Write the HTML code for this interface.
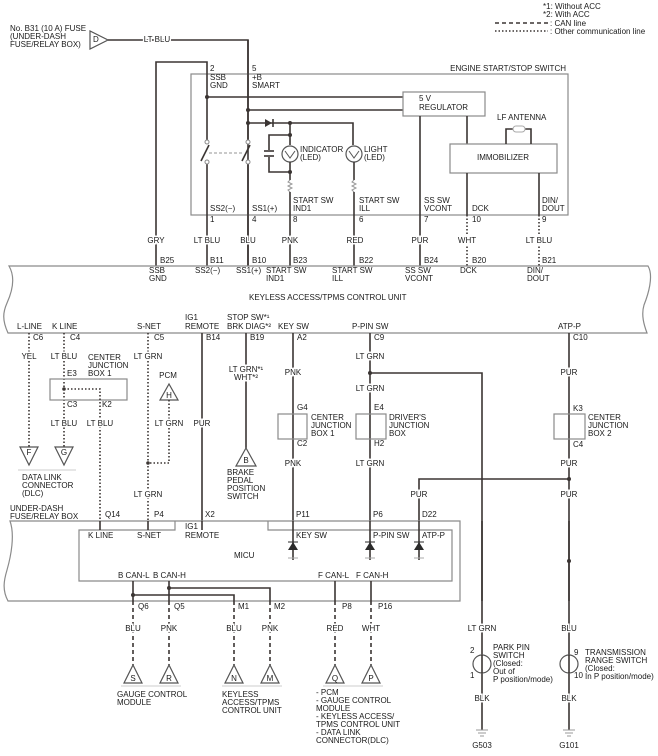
<!DOCTYPE html>
<html><head><meta charset="utf-8"><style>
html,body{margin:0;padding:0;background:#fff}
svg{display:block}
text{font-family:"Liberation Sans",sans-serif;font-size:8px;fill:#1a1a1a}
.l{stroke:white;stroke-width:3;paint-order:stroke}
.w{stroke:#3b3533;stroke-width:1.6;fill:none}
.b{stroke:#8a8a8a;stroke-width:1.2;fill:none}
.dot{stroke:#3b3533;stroke-width:1.6;fill:none;stroke-dasharray:1.5 2}
.dsh{stroke:#3b3533;stroke-width:1.6;fill:none;stroke-dasharray:4 3}
.tri{stroke:#555;stroke-width:1.2;fill:#fff}
.c{text-anchor:middle}
</style></head><body>
<svg width="658" height="756" viewBox="0 0 658 756" xmlns="http://www.w3.org/2000/svg">
<!-- legend -->
<text x="543" y="9">*1: Without ACC</text>
<text x="543" y="17">*2: With ACC</text>
<line x1="495" y1="23" x2="548" y2="23" class="dsh" stroke-width="1.2"/>
<text x="550" y="26">: CAN line</text>
<line x1="495" y1="31" x2="548" y2="31" class="dot" stroke-width="1.2"/>
<text x="550" y="34">: Other communication line</text>

<!-- fuse -->
<text x="10" y="31">No. B31 (10 A) FUSE</text>
<text x="10" y="39">(UNDER-DASH</text>
<text x="10" y="47">FUSE/RELAY BOX)</text>
<polygon points="90,31 90,49 108,40" class="tri"/>
<text x="93" y="42">D</text>
<polyline points="108,40 248,40 248,266" class="w"/>
<text x="157" y="42" class="c l">LT BLU</text>

<!-- engine start/stop switch -->
<rect x="191" y="74" width="377" height="141" class="b"/>
<text x="566" y="71" text-anchor="end">ENGINE START/STOP SWITCH</text>
<polyline points="156,266 156,62 207,62 207,142" class="w"/>
<line x1="207" y1="162" x2="207" y2="266" class="w"/>
<line x1="248" y1="142" x2="248" y2="40" class="w"/>
<line x1="248" y1="162" x2="248" y2="266" class="w"/>
<line x1="201" y1="161" x2="209" y2="145" class="w" stroke-width="1.2"/>
<line x1="242" y1="161" x2="250" y2="145" class="w" stroke-width="1.2"/>
<circle cx="207" cy="142" r="2" fill="#fff" stroke="#888"/><circle cx="207" cy="162" r="2" fill="#fff" stroke="#888"/>
<circle cx="248" cy="142" r="2" fill="#fff" stroke="#888"/><circle cx="248" cy="162" r="2" fill="#fff" stroke="#888"/>
<line x1="209" y1="153" x2="244" y2="153" stroke="#aaa" stroke-width="1.2" stroke-dasharray="3 2"/>
<text x="210" y="71">2</text><text x="210" y="80">SSB</text><text x="210" y="88">GND</text>
<text x="252" y="71">5</text><text x="252" y="80">+B</text><text x="252" y="88">SMART</text>
<line x1="207" y1="97" x2="403" y2="97" class="w"/>
<line x1="248" y1="110" x2="403" y2="110" class="w"/>
<circle cx="207" cy="97" r="2" fill="#3b3533"/><circle cx="248" cy="110" r="2" fill="#3b3533"/><circle cx="248" cy="123" r="2" fill="#3b3533"/>
<rect x="403" y="92" width="82" height="24" class="b"/>
<text x="419" y="101">5 V</text><text x="419" y="110">REGULATOR</text>
<polyline points="248,123 353,123 353,145" class="w"/>
<polygon points="265,119 265,127 272,123" fill="#3b3533"/><line x1="273" y1="119" x2="273" y2="127" class="w" stroke-width="1.2"/>
<circle cx="290" cy="123" r="2" fill="#3b3533"/>
<line x1="290" y1="123" x2="290" y2="145" class="w"/>
<polyline points="290,135 269,135 269,150" class="w"/>
<polyline points="269,157 269,172 290,172" class="w"/>
<line x1="264" y1="151" x2="274" y2="151" class="w" stroke-width="1.2"/><line x1="264" y1="156" x2="274" y2="156" class="w" stroke-width="1.2"/>
<circle cx="290" cy="135" r="2" fill="#3b3533"/><circle cx="290" cy="172" r="2" fill="#3b3533"/>
<circle cx="290" cy="154" r="8" fill="#fff" stroke="#555" stroke-width="1.2"/><path d="M285,151 L290,158 L295,151" fill="none" stroke="#555"/>
<circle cx="354" cy="154" r="8" fill="#fff" stroke="#555" stroke-width="1.2"/><path d="M349,151 L354,158 L359,151" fill="none" stroke="#555"/>
<text x="300" y="152">INDICATOR</text><text x="300" y="160">(LED)</text>
<text x="364" y="152">LIGHT</text><text x="364" y="160">(LED)</text>
<line x1="290" y1="162" x2="290" y2="180" class="w"/>
<line x1="354" y1="162" x2="354" y2="180" class="w"/>
<path d="M290,180 l-2,2 l4,2 l-4,2 l4,2 l-4,2 l2,2" fill="none" stroke="#999"/>
<path d="M354,180 l-2,2 l4,2 l-4,2 l4,2 l-4,2 l2,2" fill="none" stroke="#999"/>
<line x1="290" y1="192" x2="290" y2="266" class="w"/>
<line x1="354" y1="192" x2="354" y2="266" class="w"/>
<line x1="420" y1="116" x2="420" y2="266" class="w"/>
<line x1="467" y1="116" x2="467" y2="144" class="w"/>
<rect x="450" y="144" width="107" height="29" class="b"/>
<text x="503" y="160" class="c">IMMOBILIZER</text>
<text x="497" y="120">LF ANTENNA</text>
<polyline points="506,144 506,129 514,129" class="w"/><polyline points="531,144 531,129 524,129" class="w"/>
<rect x="513" y="126" width="12" height="6" rx="3" fill="#fff" stroke="#aaa"/>
<line x1="467" y1="173" x2="467" y2="215" class="w"/>
<line x1="539" y1="173" x2="539" y2="215" class="w"/>
<line x1="467" y1="215" x2="467" y2="266" class="dot"/>
<line x1="539" y1="215" x2="539" y2="266" class="dot"/>
<text x="210" y="211">SS2(−)</text><text x="252" y="211">SS1(+)</text>
<text x="293" y="203">START SW</text><text x="293" y="211">IND1</text>
<text x="359" y="203">START SW</text><text x="359" y="211">ILL</text>
<text x="424" y="203">SS SW</text><text x="424" y="211">VCONT</text>
<text x="472" y="211">DCK</text>
<text x="542" y="203">DIN/</text><text x="542" y="211">DOUT</text>
<text x="210" y="222">1</text><text x="252" y="222">4</text><text x="293" y="222">8</text><text x="359" y="222">6</text><text x="424" y="222">7</text><text x="472" y="222">10</text><text x="542" y="222">9</text>
<text x="156" y="243" class="c l">GRY</text><text x="207" y="243" class="c l">LT BLU</text><text x="248" y="243" class="c l">BLU</text><text x="290" y="243" class="c l">PNK</text>
<text x="355" y="243" class="c l">RED</text><text x="420" y="243" class="c l">PUR</text><text x="467" y="243" class="c l">WHT</text><text x="539" y="243" class="c l">LT BLU</text>
<text x="160" y="263">B25</text><text x="210" y="263">B11</text><text x="252" y="263">B10</text><text x="293" y="263">B23</text><text x="359" y="263">B22</text><text x="424" y="263">B24</text><text x="472" y="263">B20</text><text x="542" y="263">B21</text>

<!-- keyless unit -->
<path d="M9,266 L648,266 C654,276 648,295 644,305 C641,315 644,325 647,333 L8,333 C2,320 3,312 7,303 C12,292 16,278 9,266 Z" fill="none" stroke="#8a8a8a" stroke-width="1.2"/>
<text x="149" y="273">SSB</text><text x="149" y="281">GND</text>
<text x="195" y="273">SS2(−)</text><text x="236" y="273">SS1(+)</text>
<text x="266" y="273">START SW</text><text x="266" y="281">IND1</text>
<text x="332" y="273">START SW</text><text x="332" y="281">ILL</text>
<text x="405" y="273">SS SW</text><text x="405" y="281">VCONT</text>
<text x="460" y="273">DCK</text>
<text x="527" y="273">DIN/</text><text x="527" y="281">DOUT</text>
<text x="249" y="300">KEYLESS ACCESS/TPMS CONTROL UNIT</text>
<text x="17" y="329">L-LINE</text><text x="52" y="329">K LINE</text><text x="137" y="329">S-NET</text>
<text x="185" y="320">IG1</text><text x="185" y="329">REMOTE</text>
<text x="227" y="320">STOP SW*¹</text><text x="227" y="329">BRK DIAG*²</text>
<text x="278" y="329">KEY SW</text><text x="352" y="329">P-PIN SW</text><text x="558" y="329">ATP-P</text>
<text x="33" y="340">C6</text><text x="70" y="340">C4</text><text x="154" y="340">C5</text><text x="206" y="340">B14</text><text x="250" y="340">B19</text><text x="297" y="340">A2</text><text x="374" y="340">C9</text><text x="573" y="340">C10</text>

<!-- left dotted lines -->
<line x1="29" y1="333" x2="29" y2="448" class="dot"/>
<line x1="64" y1="333" x2="64" y2="448" class="dot"/>
<text x="29" y="359" class="c l">YEL</text><text x="64" y="359" class="c l">LT BLU</text>
<text x="88" y="360">CENTER</text><text x="88" y="368">JUNCTION</text><text x="88" y="376">BOX 1</text>
<text x="67" y="376">E3</text>
<rect x="50" y="379" width="77" height="21" class="b"/>
<polyline points="64,389 100,389 100,521" class="dot"/>
<circle cx="64" cy="389" r="1.8" fill="#3b3533"/>
<text x="67" y="407">C3</text><text x="102" y="407">K2</text>
<text x="64" y="426" class="c l">LT BLU</text><text x="100" y="426" class="c l">LT BLU</text>
<polygon points="20,447 38,447 29,465" class="tri"/><text x="29" y="455" class="c">F</text>
<polygon points="55,447 73,447 64,465" class="tri"/><text x="64" y="455" class="c">G</text>
<path d="M18,470 L76,470" stroke="#ccc" fill="none"/>
<text x="22" y="480">DATA LINK</text><text x="22" y="488">CONNECTOR</text><text x="22" y="496">(DLC)</text>
<line x1="148" y1="333" x2="148" y2="521" class="dot"/>
<text x="148" y="359" class="c l">LT GRN</text>
<text x="168" y="378" class="c">PCM</text>
<polygon points="160,400 178,400 169,384" class="tri"/><text x="169" y="398" class="c">H</text>
<polyline points="169,400 169,463 148,463" class="dot"/>
<circle cx="148" cy="463" r="1.8" fill="#3b3533"/>
<text x="169" y="426" class="c l">LT GRN</text>
<text x="148" y="497" class="c l">LT GRN</text>
<line x1="202" y1="333" x2="202" y2="530" class="w"/>
<text x="202" y="426" class="c l">PUR</text>
<line x1="246" y1="333" x2="246" y2="448" class="w"/>
<text x="246" y="372" class="c l">LT GRN*¹</text><text x="246" y="380" class="c l">WHT*²</text>
<polygon points="236,466 256,466 246,448" class="tri"/><text x="246" y="463" class="c">B</text>
<text x="227" y="475">BRAKE</text><text x="227" y="483">PEDAL</text><text x="227" y="491">POSITION</text><text x="227" y="499">SWITCH</text>

<!-- key sw -->
<line x1="293" y1="333" x2="293" y2="555" class="w"/>
<text x="293" y="375" class="c l">PNK</text>
<text x="297" y="410">G4</text>
<rect x="278" y="414" width="29" height="25" class="b"/>
<text x="297" y="446">C2</text>
<text x="311" y="420">CENTER</text><text x="311" y="428">JUNCTION</text><text x="311" y="436">BOX 1</text>
<text x="293" y="466" class="c l">PNK</text>

<!-- p-pin -->
<line x1="370" y1="333" x2="370" y2="555" class="w"/>
<polyline points="370,373 482,373 482,655" class="w"/>
<circle cx="370" cy="373" r="2" fill="#3b3533"/>
<text x="370" y="359" class="c l">LT GRN</text>
<text x="370" y="391" class="c l">LT GRN</text>
<text x="374" y="410">E4</text>
<rect x="356" y="414" width="30" height="25" class="b"/>
<text x="374" y="446">H2</text>
<text x="389" y="420">DRIVER'S</text><text x="389" y="428">JUNCTION</text><text x="389" y="436">BOX</text>
<text x="370" y="466" class="c l">LT GRN</text>

<!-- atp-p -->
<line x1="569" y1="333" x2="569" y2="655" class="w"/>
<text x="569" y="375" class="c l">PUR</text>
<text x="573" y="411">K3</text>
<rect x="554" y="414" width="31" height="25" class="b"/>
<text x="573" y="447">C4</text>
<text x="588" y="420">CENTER</text><text x="588" y="428">JUNCTION</text><text x="588" y="436">BOX 2</text>
<text x="569" y="466" class="c l">PUR</text>
<polyline points="569,479 419,479 419,555" class="w"/>
<circle cx="569" cy="479" r="2" fill="#3b3533"/>
<text x="419" y="497" class="c l">PUR</text><text x="569" y="497" class="c l">PUR</text>
<circle cx="569" cy="561" r="2" fill="#3b3533"/>

<!-- under-dash box -->
<path d="M10,521 L460,521 L460,601 L8,601 C2,590 4,580 7,570 C11,556 15,535 10,521 Z" fill="#fff" stroke="#8a8a8a" stroke-width="1.2"/>
<path d="M175,521 L175,530 L79,530 L79,581 L452,581 L452,530 L268,530 L268,521" fill="none" stroke="#8a8a8a" stroke-width="1.2"/>
<line x1="100" y1="521" x2="100" y2="530" class="w"/>
<line x1="148" y1="521" x2="148" y2="530" class="w"/>
<line x1="202" y1="521" x2="202" y2="530" class="w"/>
<line x1="482" y1="521" x2="482" y2="601" class="w"/>
<line x1="569" y1="521" x2="569" y2="601" class="w"/>
<line x1="293" y1="521" x2="293" y2="560" class="w"/>
<line x1="370" y1="521" x2="370" y2="560" class="w"/>
<line x1="419" y1="521" x2="419" y2="560" class="w"/>
<text x="10" y="511">UNDER-DASH</text><text x="10" y="519">FUSE/RELAY BOX</text>
<text x="105" y="517">Q14</text><text x="154" y="517">P4</text><text x="205" y="517">X2</text><text x="296" y="517">P11</text><text x="373" y="517">P6</text><text x="422" y="517">D22</text>
<text x="88" y="538">K LINE</text><text x="137" y="538">S-NET</text>
<text x="185" y="529">IG1</text><text x="185" y="538">REMOTE</text>
<text x="296" y="538">KEY SW</text><text x="373" y="538">P-PIN SW</text><text x="422" y="538">ATP-P</text>
<text x="234" y="558">MICU</text>
<g fill="#2a2a2a">
<polygon points="288,550 298,550 293,542"/><line x1="288" y1="542" x2="298" y2="542" stroke="#2a2a2a"/>
<polygon points="365,550 375,550 370,542"/><line x1="365" y1="542" x2="375" y2="542" stroke="#2a2a2a"/>
<polygon points="414,550 424,550 419,542"/><line x1="414" y1="542" x2="424" y2="542" stroke="#2a2a2a"/>
</g>
<line x1="288" y1="558" x2="298" y2="558" stroke="#aaa"/><line x1="365" y1="558" x2="375" y2="558" stroke="#aaa"/><line x1="414" y1="558" x2="424" y2="558" stroke="#aaa"/>
<text x="118" y="578">B CAN-L</text><text x="153" y="578">B CAN-H</text><text x="318" y="578">F CAN-L</text><text x="356" y="578">F CAN-H</text>

<!-- CAN -->
<line x1="133" y1="581" x2="133" y2="601" class="w"/>
<line x1="169" y1="581" x2="169" y2="601" class="w"/>
<polyline points="133,595 234,595 234,601" class="w"/>
<polyline points="169,588 270,588 270,601" class="w"/>
<circle cx="133" cy="595" r="2" fill="#3b3533"/><circle cx="169" cy="588" r="2" fill="#3b3533"/>
<line x1="335" y1="581" x2="335" y2="601" class="w"/>
<line x1="371" y1="581" x2="371" y2="601" class="w"/>
<line x1="133" y1="601" x2="133" y2="665" class="dsh"/>
<line x1="169" y1="601" x2="169" y2="665" class="dsh"/>
<line x1="234" y1="601" x2="234" y2="665" class="dsh"/>
<line x1="270" y1="601" x2="270" y2="665" class="dsh"/>
<line x1="335" y1="601" x2="335" y2="665" class="dsh"/>
<line x1="371" y1="601" x2="371" y2="665" class="dsh"/>
<text x="138" y="609">Q6</text><text x="174" y="609">Q5</text><text x="238" y="609">M1</text><text x="274" y="609">M2</text><text x="342" y="609">P8</text><text x="378" y="609">P16</text>
<text x="133" y="631" class="c l">BLU</text><text x="169" y="631" class="c l">PNK</text><text x="234" y="631" class="c l">BLU</text><text x="270" y="631" class="c l">PNK</text><text x="335" y="631" class="c l">RED</text><text x="371" y="631" class="c l">WHT</text>
<g>
<polygon points="124,683 142,683 133,665" class="tri"/><text x="133" y="681" class="c">S</text>
<polygon points="160,683 178,683 169,665" class="tri"/><text x="169" y="681" class="c">R</text>
<polygon points="225,683 243,683 234,665" class="tri"/><text x="234" y="681" class="c">N</text>
<polygon points="261,683 279,683 270,665" class="tri"/><text x="270" y="681" class="c">M</text>
<polygon points="326,683 344,683 335,665" class="tri"/><text x="335" y="681" class="c">Q</text>
<polygon points="362,683 380,683 371,665" class="tri"/><text x="371" y="681" class="c">P</text>
</g>
<path d="M121,686 L181,686 M222,686 L282,686 M323,686 L383,686" stroke="#ccc"/>
<text x="117" y="697">GAUGE CONTROL</text><text x="117" y="705">MODULE</text>
<text x="222" y="697">KEYLESS</text><text x="222" y="705">ACCESS/TPMS</text><text x="222" y="713">CONTROL UNIT</text>
<text x="316" y="695">- PCM</text><text x="316" y="703">- GAUGE CONTROL</text><text x="316" y="711">MODULE</text><text x="316" y="719">- KEYLESS ACCESS/</text><text x="316" y="727">TPMS CONTROL UNIT</text><text x="316" y="735">- DATA LINK</text><text x="316" y="743">CONNECTOR(DLC)</text>

<!-- switches/grounds -->
<text x="482" y="631" class="c l">LT GRN</text><text x="569" y="631" class="c l">BLU</text>
<line x1="482" y1="655" x2="482" y2="730" class="w"/>
<line x1="569" y1="655" x2="569" y2="730" class="w"/>
<circle cx="482" cy="664" r="9" fill="#fff" stroke="#555" stroke-width="1.2"/>
<circle cx="569" cy="664" r="9" fill="#fff" stroke="#555" stroke-width="1.2"/>
<line x1="482" y1="655" x2="482" y2="673" class="w"/><line x1="569" y1="655" x2="569" y2="673" class="w"/>
<text x="470" y="653">2</text><text x="470" y="678">1</text>
<text x="574" y="655">9</text><text x="574" y="678">10</text>
<text x="493" y="650">PARK PIN</text><text x="493" y="658">SWITCH</text><text x="493" y="666">(Closed:</text><text x="493" y="674">Out of</text><text x="493" y="682">P position/mode)</text>
<text x="585" y="655">TRANSMISSION</text><text x="585" y="663">RANGE SWITCH</text><text x="585" y="671">(Closed:</text><text x="585" y="679">In P position/mode)</text>
<text x="482" y="701" class="c l">BLK</text><text x="569" y="701" class="c l">BLK</text>
<path d="M476,730 L488,730 M478,733 L486,733 M480,736 L484,736" stroke="#999"/>
<path d="M563,730 L575,730 M565,733 L573,733 M567,736 L571,736" stroke="#999"/>
<text x="482" y="748" class="c">G503</text><text x="569" y="748" class="c">G101</text>
</svg>
</body></html>
